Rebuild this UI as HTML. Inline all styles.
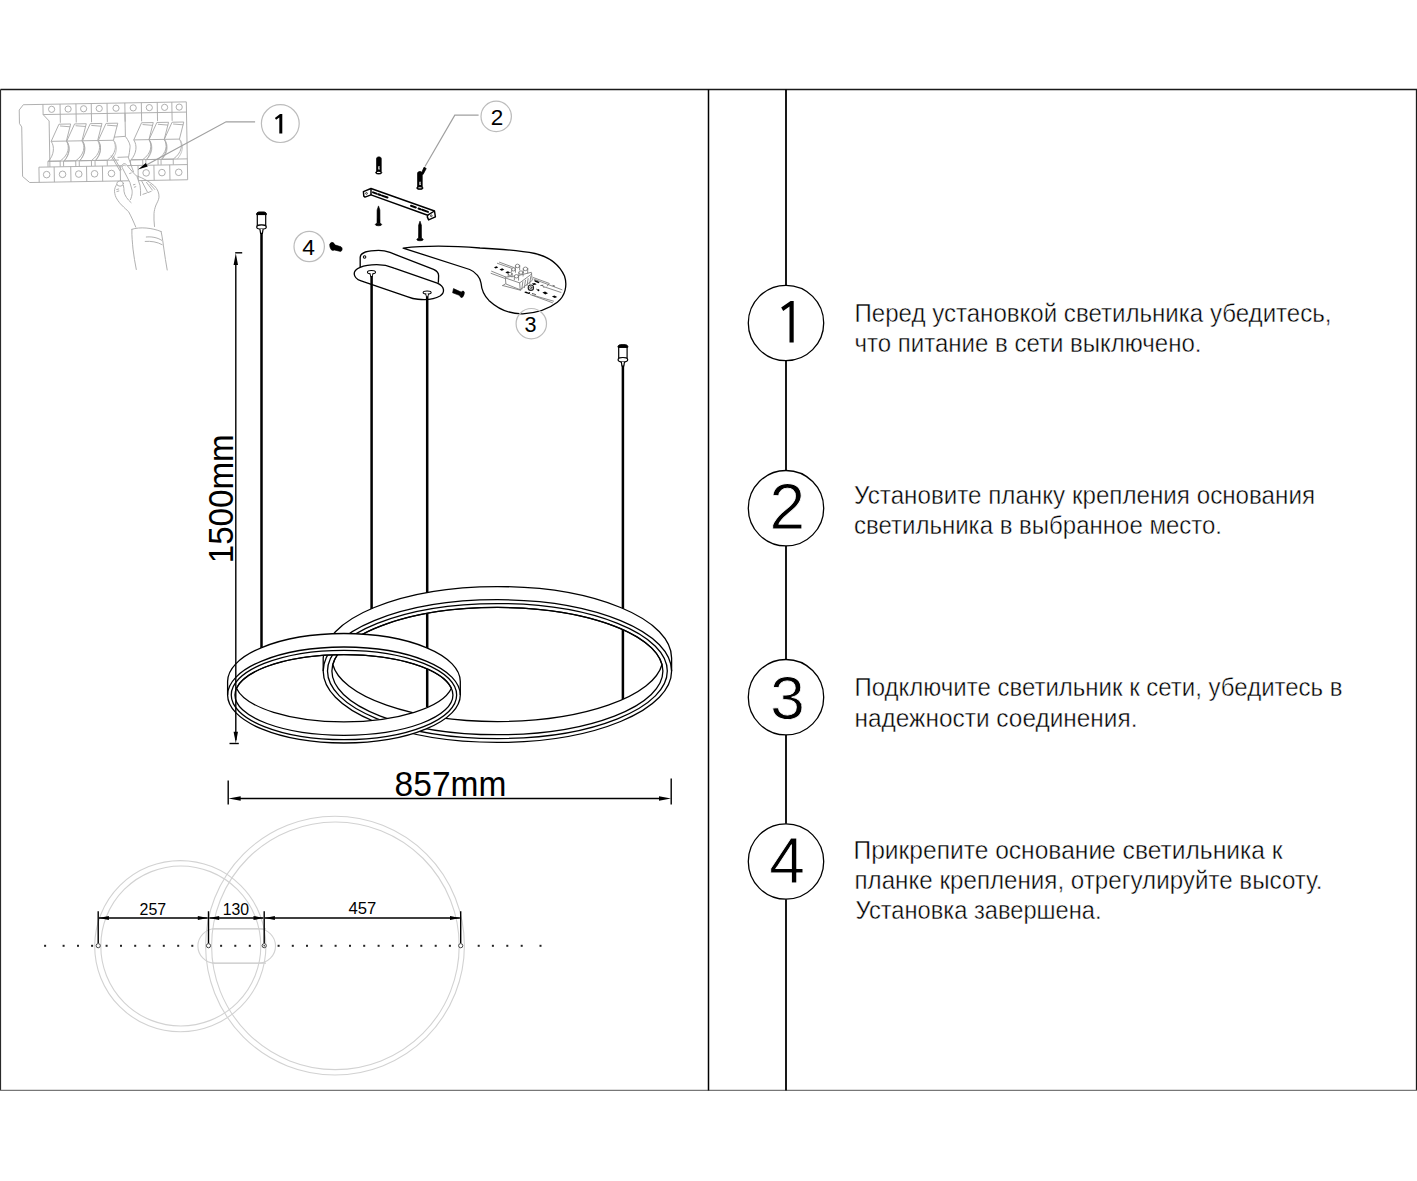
<!DOCTYPE html>
<html><head><meta charset="utf-8">
<style>
html,body{margin:0;padding:0;background:#fff;}
body{width:1417px;height:1181px;overflow:hidden;}
svg{display:block;}
text{font-family:"Liberation Sans",sans-serif;}
</style></head>
<body>
<svg width="1417" height="1181" viewBox="0 0 1417 1181">
<rect x="0" y="0" width="1417" height="1181" fill="#fff"/>
<g id="frame" fill="none" stroke="#1a1a1a">
<path d="M0.5 89.5H1416.5V1090" stroke-width="1.3"/>
<path d="M0.5 89.5V1090" stroke="#2a2a2a" stroke-width="1.2"/>
<path d="M0 1090.3H1417" stroke="#555" stroke-width="1"/>
<path d="M708.5 89.5V1090.5" stroke="#000" stroke-width="1.5"/>
</g>

<g id="timeline" fill="none" stroke="#000" stroke-width="1.8">
<path d="M786 89.5V285.3M786 360.7V470.3M786 546.1V659.3M786 735V823.7M786 899.3V1090.5"/>
<g stroke-width="1.3">
<circle cx="786" cy="323" r="37.7"/>
<circle cx="786" cy="508.2" r="37.7"/>
<circle cx="786" cy="697.2" r="37.7"/>
<circle cx="786" cy="861.5" r="37.7"/>
</g>
</g>
<path d="M789.5 342.5H793.7V301H790.6L781.2 307.6L783.2 311L789.5 306.4Z" fill="#000"/>
<g id="bignums" fill="#000" font-size="62" text-anchor="middle" stroke="#fff" stroke-width="0.8">
<text x="787.4" y="529" font-size="64">2</text>
<text x="787.4" y="719.2">3</text>
<text x="787" y="883.2" font-size="64">4</text>
</g>
<g id="steps" fill="#000" font-size="26.4" stroke="#fff" stroke-width="0.45">
<text x="854.5" y="321.7" textLength="477" lengthAdjust="spacingAndGlyphs">Перед установкой светильника убедитесь,</text>
<text x="854.5" y="351.5" textLength="347" lengthAdjust="spacingAndGlyphs">что питание в сети выключено.</text>
<text x="854" y="503.7" textLength="461" lengthAdjust="spacingAndGlyphs">Установите планку крепления основания</text>
<text x="854" y="533.7" textLength="368" lengthAdjust="spacingAndGlyphs">светильника в выбранное место.</text>
<text x="854.5" y="696.2" textLength="488" lengthAdjust="spacingAndGlyphs">Подключите светильник к сети, убедитесь в</text>
<text x="854.5" y="726.6" textLength="283" lengthAdjust="spacingAndGlyphs">надежности соединения.</text>
<text x="853.5" y="859" textLength="429" lengthAdjust="spacingAndGlyphs">Прикрепите основание светильника к</text>
<text x="854.5" y="889" textLength="468" lengthAdjust="spacingAndGlyphs">планке крепления, отрегулируйте высоту.</text>
<text x="855.5" y="919.3" textLength="246" lengthAdjust="spacingAndGlyphs">Установка завершена.</text>
</g>

<g id="panel" fill="none" stroke="#a8a8a8" stroke-width="0.9" stroke-linejoin="round" transform="rotate(-1 105 142)">
<path d="M24 103.3H187V181.2H29L22 175V125.5L19.8 122V108.5Z"/>
<path d="M43.6 103.3V113.5L49.5 120V162M43.6 113.5H187"/>
<path d="M60.7 103.3V113.5M76.6 103.3V113.5M91.9 103.3V113.5M107.7 103.3V113.5M125.5 103.3V113.5M142 103.3V113.5M157.9 103.3V113.5M172.5 103.3V113.5"/>
<circle cx="52.2" cy="108.4" r="3.1"/><circle cx="68.7" cy="108.4" r="3.1"/><circle cx="84.2" cy="108.4" r="3.1"/><circle cx="99.8" cy="108.4" r="3.1"/><circle cx="116.6" cy="108.4" r="3.1"/><circle cx="133.8" cy="108.4" r="3.1"/><circle cx="149.9" cy="108.4" r="3.1"/><circle cx="165.2" cy="108.4" r="3.1"/><circle cx="179.8" cy="108.4" r="3.1"/>
<path d="M38.5 181.2V166H187"/>
<path d="M53.7 166V181.2M70.3 166V181.2M86.1 166V181.2M102 166V181.2M119.8 166V181.2M137.6 166V181.2M153.5 166V181.2M169.3 166V181.2"/>
<circle cx="46.1" cy="173.6" r="3.3"/><circle cx="62.0" cy="173.6" r="3.3"/><circle cx="78.2" cy="173.6" r="3.3"/><circle cx="94.0" cy="173.6" r="3.3"/><circle cx="110.9" cy="173.6" r="3.3"/><circle cx="128.7" cy="173.6" r="3.3"/><circle cx="145.6" cy="173.6" r="3.3"/><circle cx="161.4" cy="173.6" r="3.3"/><circle cx="178.2" cy="173.6" r="3.3"/>
<path d="M60.7 113.5V122M76.6 113.5V122M91.9 113.5V122M107.7 113.5V122M125.5 113.5V122M142 113.5V122M157.9 113.5V122M172.5 113.5V122M125.5 113.5V136.8M49.5 162V166"/>
<path d="M47.6 160.3H118.5M130.7 160.3H187"/><path d="M59.3 123.4H71.0L66.4 140.4C69.8 146 68.8 154 59.8 160.3H48.1C53.8 154 54.8 146 51.2 140.4Z"/><path d="M51.2 140.4H66.4M47.6 160.3V165.8M59.8 160.3V165.8M60.3 125.2L70.5 126.2"/><path d="M67.4 141.5C70.3 147 69.8 154 63.8 160.3" stroke="#c0c0c0"/><path d="M74.9 123.4H86.6L82.0 140.4C85.4 146 84.4 154 75.4 160.3H63.7C69.4 154 70.4 146 66.8 140.4Z"/><path d="M66.8 140.4H82.0M63.2 160.3V165.8M75.4 160.3V165.8M75.9 125.2L86.1 126.2"/><path d="M83.0 141.5C85.9 147 85.4 154 79.4 160.3" stroke="#c0c0c0"/><path d="M90.6 123.4H102.3L97.7 140.4C101.1 146 100.1 154 91.1 160.3H79.4C85.1 154 86.1 146 82.5 140.4Z"/><path d="M82.5 140.4H97.7M78.9 160.3V165.8M91.1 160.3V165.8M91.6 125.2L101.8 126.2"/><path d="M98.7 141.5C101.6 147 101.1 154 95.1 160.3" stroke="#c0c0c0"/><path d="M106.4 123.4H118.1L113.5 140.4C116.9 146 115.9 154 106.9 160.3H95.2C100.9 154 101.9 146 98.3 140.4Z"/><path d="M98.3 140.4H113.5M94.7 160.3V165.8M106.9 160.3V165.8M107.4 125.2L117.6 126.2"/><path d="M114.5 141.5C117.4 147 116.9 154 110.9 160.3" stroke="#c0c0c0"/><path d="M141.9 123.4H153.6L149.0 140.4C152.4 146 151.4 154 142.4 160.3H130.7C136.4 154 137.4 146 133.8 140.4Z"/><path d="M133.8 140.4H149.0M130.2 160.3V165.8M142.4 160.3V165.8M142.9 125.2L153.1 126.2"/><path d="M150.0 141.5C152.9 147 152.4 154 146.4 160.3" stroke="#c0c0c0"/><path d="M157.2 123.4H168.9L164.3 140.4C167.7 146 166.7 154 157.7 160.3H146.0C151.7 154 152.7 146 149.1 140.4Z"/><path d="M149.1 140.4H164.3M145.5 160.3V165.8M157.7 160.3V165.8M158.2 125.2L168.4 126.2"/><path d="M165.3 141.5C168.2 147 167.7 154 161.7 160.3" stroke="#c0c0c0"/><path d="M172.4 123.4H184.1L179.5 140.4C182.9 146 181.9 154 172.9 160.3H161.2C166.9 154 167.9 146 164.3 140.4Z"/><path d="M164.3 140.4H179.5M160.7 160.3V165.8M172.9 160.3V165.8M173.4 125.2L183.6 126.2"/><path d="M180.5 141.5C183.4 147 182.9 154 176.9 160.3" stroke="#c0c0c0"/><path d="M114 137.3L125.4 136.7C128.5 141 130.5 145 129.9 148.1C129.5 151.5 129 154.5 128.3 157.3L117.2 157.6"/>
</g>
<g id="hand" fill="none" stroke="#a8a8a8" stroke-width="0.9" stroke-linecap="round" stroke-linejoin="round">
<path d="M111.2 155.9L119.8 170.6M112.8 155.6L121.2 169.8M128.3 157.3L133.5 171.8"/>
<path d="M130.5 199.6C132.5 195 132.3 191.3 132 190L129.9 182.4L122.2 167.6C121.3 165.5 122.5 163.6 124.5 163.6C125.5 163.7 126 164 126.3 164.6L133.5 173C135 174.5 136 175.5 137 176.5L140 185.4C140.5 189 140.8 192 140.6 195.5" fill="#fff"/>
<path d="M122.6 166.2C123.2 165 124.5 164.8 125.4 165.6"/>
<path d="M137 175.9C143 178 150 182 154.5 186C157.5 189 159.2 193 159 197.2C158.7 200 157.2 202.5 156 205C154.8 208 154.2 211 154 213.5C153.8 218 154 222 154.5 226.5"/>
<path d="M141.8 181.2L147.7 192.5M146.5 182.4L152.4 190.1M150 184.2L154.8 189.5M142.9 194.3L146.5 193.1M148.3 192.5L151.2 191.3"/>
<path d="M116.9 184.2C115.3 186.5 114.4 189 114.5 191.3C114.8 194.5 115.6 197 116.9 199C118.5 201.5 120 203.5 121.6 205C124.5 208 126.8 210 128.6 211.7C131 216 133.5 221.5 135.8 227.1"/>
<path d="M123.4 185.4C123.9 187.5 124 189.5 124 191.3C124.5 195.5 127.5 199.5 131.1 202.6"/>
<ellipse cx="120.1" cy="183.6" rx="3.3" ry="2.6" fill="#fff"/>
<path d="M116.7 189.5L118.7 189M116.9 191.5L118.9 191M133.4 184.8L135 184.4M134.3 187.2L135.8 186.7M129.6 173.5L131.2 173"/>
<path d="M131.9 229.3C140 226.6 152 227.8 161.1 231.5M131.9 229.3C131.6 236 132.6 244 133 249.1C133.8 256 135 263 136.3 269.5M161.1 231.5C162.5 238 163.2 244 163.9 249.1C164.8 256 166 263 167.2 270"/>
<path d="M146.3 237C151 236.5 157 237.2 161.7 240.3M145.2 241.4C151 241 157 241.8 162.2 244.7"/>
</g>
<g id="hardware">
<!-- dowels -->
<g fill="#000" stroke="#000" stroke-width="0.8">
<path d="M376.6 171.5V158.6C376.6 157.4 377.6 156.9 378.9 156.9C380.2 156.9 381.2 157.4 381.2 158.6V171.5Z"/>
<ellipse cx="378.7" cy="172.6" rx="3.1" ry="1.5"/>
<path d="M417.6 187V173.3C417.6 172.2 418.6 171.6 419.9 171.6C421.2 171.6 422.2 172.2 422.2 173.3V187Z"/>
<ellipse cx="419.9" cy="188" rx="3.2" ry="1.5"/>
<path d="M421.3 173.5L424.1 167.2L426.2 168.5L423 174.5Z"/>
</g>
<g fill="#fff"><path d="M378.3 166.3h1.4l-0.3 1.5 0.4 1.6h-1.5zM419.4 181.8h1.4l-0.3 1.5 0.4 1.6h-1.5z"/><ellipse cx="378.7" cy="172.4" rx="1.9" ry="0.55"/><ellipse cx="419.9" cy="187.8" rx="1.9" ry="0.55"/></g>
<!-- screws -->
<g fill="#000" stroke="#000" stroke-width="0.6">
<path d="M378.5 205.9L379.9 210L380 223.2H377L377.1 210Z"/>
<ellipse cx="378.5" cy="224.5" rx="3.2" ry="1.3"/>
<path d="M420 221.1L421.4 225.2L421.5 238.2H418.5L418.6 225.2Z"/>
<ellipse cx="420" cy="239.5" rx="3.2" ry="1.3"/>
<ellipse cx="332.5" cy="246.4" rx="2.6" ry="4.1" transform="rotate(-15 332.5 246.4)"/><path d="M334 244.6L341 246.8C342.6 247.6 342.6 250.9 340.6 251.5L334 249.9Z"/>
<path d="M453.5 288.6L461.2 292.1L460 295.6L452.6 292.8Z"/>
<ellipse cx="462.2" cy="294.3" rx="1.8" ry="3.4" transform="rotate(20 462.2 294.3)"/>
</g>
<!-- bracket -->
<g fill="#fff" stroke="#000" stroke-width="1.45" stroke-linejoin="round">
<path d="M363.4 191.6L371 188.5L434.5 211L435.4 216.9L428.6 219.9L427.3 216.9L427.7 215.2L371 194.9L365 197.1L363.8 196.1Z"/>
<path d="M371 188.5V194.9M427.7 215.2L434.5 211" fill="none"/>
</g>
<g stroke="#000" stroke-width="2" stroke-linecap="round">
<path d="M373 192.4L376.5 193.6M378.3 194.3L380.3 195M382 195.6L387.5 197.5M411 205.8L415.8 207.5M418.5 208.5L420.5 209.2M422.2 209.8L428 211.9"/>
</g>
<g fill="none" stroke="#000" stroke-width="0.7"><circle cx="366.5" cy="193.4" r="0.9"/><circle cx="431.3" cy="215.8" r="0.9"/></g>
<!-- bubble -->
<path d="M403.1 248.1C420 246 450 245.5 480 248C500 249 520 250.5 535 253.5C550 257 560 266 564.5 276C567.5 285 565.5 296 557.3 302.2C548 309.5 536 313 522.7 313.8C508 314 496 307 488.9 300.4C484 295.5 481.5 289 481 283C480.5 278 476 272 469.7 269.5Z" fill="#fff" stroke="#000" stroke-width="1.3" stroke-linejoin="round"/>
<!-- terminal block inside bubble -->
<g transform="translate(490 258) scale(0.05294)" fill="none" stroke="#777" stroke-width="16" stroke-linecap="round" stroke-linejoin="round">
<path d="M140 100L440 205M180 80L450 180M30 250L300 360M20 290L280 385M820 370L1120 480L1080 530M830 400L1360 600M1010 540L1340 650M760 690L1180 845M800 700L1200 815M990 520L1020 560M240 520L580 610M240 520L290 490"/>
<path d="M290 370L300 490L570 600L800 420L780 270L540 330Z" fill="#fff"/>
<path d="M300 380L560 470L790 300M560 470L570 600M600 590L620 450M650 560L670 420M700 520L720 390M750 490L770 350"/>
<ellipse cx="380" cy="300" rx="36" ry="30" fill="#fff"/><path d="M344 300V350M416 300V360"/>
<ellipse cx="445" cy="215" rx="36" ry="30" fill="#fff"/><path d="M409 215V260M481 215V270"/>
<ellipse cx="520" cy="150" rx="40" ry="34" fill="#fff"/><path d="M480 150V215M560 150V225"/>
<ellipse cx="500" cy="345" rx="40" ry="32" fill="#fff"/><path d="M460 345V410M540 345V420"/>
<ellipse cx="585" cy="275" rx="40" ry="32" fill="#fff"/><path d="M545 275V330M625 275V340"/>
<ellipse cx="670" cy="205" rx="42" ry="34" fill="#fff"/><path d="M628 205V270M712 205V285"/>
<circle cx="772" cy="560" r="50" stroke="#222" stroke-width="22"/><circle cx="772" cy="560" r="20" stroke="#444"/>
<path d="M960 520L1000 515M880 590L920 610M800 670L860 690M1190 520L1220 530" stroke="#444"/>
</g>
<g transform="translate(490 258) scale(0.05294)" fill="#000" stroke="none">
<path d="M75 175L125 155L155 180L105 200Z"/>
<path d="M180 215L230 195L270 220L220 240Z"/>
<path d="M290 270L340 250L375 275L325 295Z"/>
<path d="M990 650L1040 635L1095 665L1045 690Z"/>
<path d="M1170 725L1215 710L1270 735L1225 755Z"/>
<path d="M830 425L860 420L935 455L920 475L850 450Z"/>
<path d="M790 480L850 470L880 500L820 510Z"/>
<path d="M645 640L680 635L750 665L735 680L670 660Z"/>
<path d="M735 640L760 650L745 680L725 670Z"/>
<circle cx="915" cy="610" r="18"/>
</g>
<!-- canopy -->
<g transform="translate(340 230) scale(0.09174)" fill="#fff" stroke="#000" stroke-width="14.5" stroke-linejoin="round">
<path d="M220 405L220 300C220 250 300 222 420 222C470 222 510 232 545 245L1020 430C1060 448 1075 470 1075 500L1072 575"/>
<path d="M155 480C150 420 250 378 400 378C480 378 540 395 590 415L1060 580C1140 615 1150 680 1090 720C1040 750 950 765 850 755C800 750 770 740 740 728L230 555C185 540 158 515 155 480Z"/>
<circle cx="268" cy="295" r="14" stroke-width="11"/>
<ellipse cx="343" cy="460" rx="44" ry="18" stroke-width="11"/>
<ellipse cx="950" cy="682" rx="44" ry="18" stroke-width="11"/>
<path d="M326 470L336 510H350L360 470M933 692L943 730H957L967 692" stroke-width="10"/>
</g>
</g>

<g id="callouts" fill="none" stroke="#bcbcbc" stroke-width="1.2">
<circle cx="280.3" cy="123.6" r="18.9"/>
<circle cx="496.2" cy="116.4" r="15.2"/>
<circle cx="531.3" cy="323.7" r="15.2"/>
<circle cx="309.2" cy="246.5" r="15.2"/>
<path d="M255.1 121.8H226.1L146.8 164.8" stroke="#a0a0a0"/>
<path d="M478.6 115.2H454.8L425 166.5" stroke="#a0a0a0"/>
</g>
<g fill="#000">
<path d="M138 169.6L147.75 166.5L145.85 163Z"/>
<path d="M279.3 133.6H282.3V114H280L274.9 118L276.1 119.7L279.3 117.4Z"/>
</g>
<g fill="#000" font-size="22.5" text-anchor="middle">
<text x="497" y="124.6">2</text>
<text x="530.5" y="331.7" font-size="21.6">3</text>
<text x="308.5" y="254.7" font-size="22.8">4</text>
</g>
<g id="cables" fill="none" stroke="#000" stroke-width="2.5">
<path d="M261.5 232V652"/>
<path d="M371.6 276V612"/>
<path d="M427.2 296.5V707"/>
<path d="M622.9 364V699.5"/>
</g>
<g id="hooks" fill="#fff" stroke="#000" stroke-width="1.2">
<g transform="translate(261.5 211.8)">
<path d="M-4.2 2.6V13.6H4.2V2.6Z"/>
<path d="M-4.9 2.8C-5.2 1.4 -4.2 0.4 -2.5 0.2H2.5C4.2 0.4 5.2 1.4 4.9 2.8Z" fill="#000" stroke-width="1"/>
<ellipse cx="0" cy="15.2" rx="4.8" ry="2.2"/>
<path d="M-1.6 17.3L-0.9 21.5H0.9L1.6 17.3" fill="#fff"/>
</g>
<g transform="translate(622.9 344.5)">
<path d="M-4.2 2.6V13.6H4.2V2.6Z"/>
<path d="M-4.9 2.8C-5.2 1.4 -4.2 0.4 -2.5 0.2H2.5C4.2 0.4 5.2 1.4 4.9 2.8Z" fill="#000" stroke-width="1"/>
<ellipse cx="0" cy="15.2" rx="4.8" ry="2.2"/>
<path d="M-1.6 17.3L-0.9 21.5H0.9L1.6 17.3" fill="#fff"/>
</g>
</g>

<path d="M323.2 657.95A174.2 71.35 0 0 1 671.6 657.95L671.6 671.05A174.2 71.35 0 0 1 323.2 671.05ZM332.78 664.5A165.5 63.6 0 0 1 662.02 664.5A165.5 63.6 0 0 1 332.78 664.5Z" fill="#fff" fill-rule="evenodd" stroke="#000" stroke-width="1.3"/>
<path d="M323.2 671.05A174.2 71.35 0 0 1 671.6 671.05M331.9 671.05A165.5 63.6 0 1 1 662.9 671.05A165.5 63.6 0 1 1 331.9 671.05ZM327.5 671.05A169.9 67.5 0 1 1 667.3 671.05A169.9 67.5 0 1 1 327.5 671.05Z" fill="none" stroke="#000" stroke-width="1.3"/>
<path d="M227.6 681.5A116.35 48 0 0 1 460.3 681.5L460.3 695A116.35 48 0 0 1 227.6 695ZM236.49 688.25A109 40.3 0 0 1 451.41 688.25A109 40.3 0 0 1 236.49 688.25Z" fill="#fff" fill-rule="evenodd" stroke="#000" stroke-width="1.3"/>
<path d="M227.6 695A116.35 48 0 0 1 460.3 695M234.95 695A109 40.3 0 1 1 452.95 695A109 40.3 0 1 1 234.95 695ZM231.25 695A112.7 44.7 0 1 1 456.65 695A112.7 44.7 0 1 1 231.25 695Z" fill="none" stroke="#000" stroke-width="1.3"/>
<g id="dims" stroke="#000" fill="none" stroke-width="1.4">
<path d="M235.8 262V740"/>
<path d="M235.2 252.8H242.2"/>
<path d="M229.5 743.5H238.8"/>
<path d="M228.2 780.5V804.5M671.2 778.5V804.5"/>
<path d="M238 798.5H661" stroke-width="1.3"/>
</g>
<g fill="#000" stroke="none">
<path d="M235.8 253.2L238 265H233.6Z"/>
<path d="M235.8 743.2L238 731.7H233.6Z"/>
<path d="M228.4 798.5L240.7 796.3V800.7Z"/>
<path d="M671 798.5L659 796.3V800.7Z"/>
</g>
<g fill="#000" font-size="32.5">
<text x="394.6" y="795.8" font-size="34.4" textLength="111.8" lengthAdjust="spacingAndGlyphs">857mm</text>
<text transform="translate(233 563.3) rotate(-90)" x="0" y="0" font-size="35.5" textLength="129" lengthAdjust="spacingAndGlyphs">1500mm</text>
</g>

<g id="topview" fill="none" stroke="#d2d2d2" stroke-width="1.1">
<circle cx="180.3" cy="946.2" r="85.6"/><circle cx="180.8" cy="946" r="80"/>
<circle cx="335" cy="945.6" r="129.4"/><circle cx="335.4" cy="945.8" r="123.8"/>
<rect x="197.9" y="928.7" width="77.6" height="34.6" rx="17.3" ry="17.3"/>
<path d="M212 928.9H266M212 963.1H266" stroke="#d0d0d0"/>
</g>
<g fill="#222"><rect x="44.1" y="944.8" width="2" height="2"/><rect x="62.6" y="944.8" width="2" height="2"/><rect x="77.0" y="944.8" width="2" height="2"/><rect x="91.1" y="944.8" width="2" height="2"/><rect x="105.6" y="944.8" width="2" height="2"/><rect x="120.0" y="944.8" width="2" height="2"/><rect x="134.2" y="944.8" width="2" height="2"/><rect x="148.5" y="944.8" width="2" height="2"/><rect x="162.8" y="944.8" width="2" height="2"/><rect x="177.2" y="944.8" width="2" height="2"/><rect x="191.3" y="944.8" width="2" height="2"/><rect x="220.1" y="944.8" width="2" height="2"/><rect x="234.3" y="944.8" width="2" height="2"/><rect x="248.8" y="944.8" width="2" height="2"/><rect x="277.6" y="944.8" width="2" height="2"/><rect x="291.8" y="944.8" width="2" height="2"/><rect x="306.0" y="944.8" width="2" height="2"/><rect x="320.4" y="944.8" width="2" height="2"/><rect x="334.6" y="944.8" width="2" height="2"/><rect x="349.0" y="944.8" width="2" height="2"/><rect x="363.2" y="944.8" width="2" height="2"/><rect x="377.6" y="944.8" width="2" height="2"/><rect x="391.8" y="944.8" width="2" height="2"/><rect x="406.1" y="944.8" width="2" height="2"/><rect x="420.3" y="944.8" width="2" height="2"/><rect x="434.7" y="944.8" width="2" height="2"/><rect x="448.9" y="944.8" width="2" height="2"/><rect x="477.7" y="944.8" width="2" height="2"/><rect x="491.9" y="944.8" width="2" height="2"/><rect x="506.3" y="944.8" width="2" height="2"/><rect x="520.7" y="944.8" width="2" height="2"/><rect x="539.5" y="944.8" width="2" height="2"/></g>
<g stroke="#000" stroke-width="1.4" fill="none"><path d="M98.2 911.3V943.6M208.5 911.3V943.6M264.2 911.3V943.6M460.7 911.3V943.6"/></g>
<g stroke="#000" stroke-width="1.3" fill="none"><path d="M99 918H207.7M209.3 918H263.4M265 918H459.9"/></g>
<g fill="#000"><path d="M98.9 918L108.9 915.9V920.1Z"/><path d="M207.8 918L197.8 915.9V920.1Z"/><path d="M209.2 918L219.2 915.9V920.1Z"/><path d="M263.5 918L253.5 915.9V920.1Z"/><path d="M264.9 918L274.9 915.9V920.1Z"/><path d="M460 918L450 915.9V920.1Z"/></g>
<g fill="#fff" stroke="#333" stroke-width="0.9"><circle cx="98.2" cy="945.7" r="2.1"/><circle cx="208.5" cy="945.7" r="2.1"/><circle cx="264.2" cy="945.7" r="2.1"/><circle cx="460.7" cy="945.7" r="2.1"/></g>
<circle cx="264.2" cy="945.7" r="0.8" fill="#333"/>
<g fill="#000" font-size="16">
<text x="139.6" y="914.6" textLength="26.6" lengthAdjust="spacingAndGlyphs">257</text>
<text x="222.8" y="914.6" textLength="26.3" lengthAdjust="spacingAndGlyphs">130</text>
<text x="348.5" y="914.4" textLength="27.8" lengthAdjust="spacingAndGlyphs">457</text>
</g>
</svg>
</body></html>
